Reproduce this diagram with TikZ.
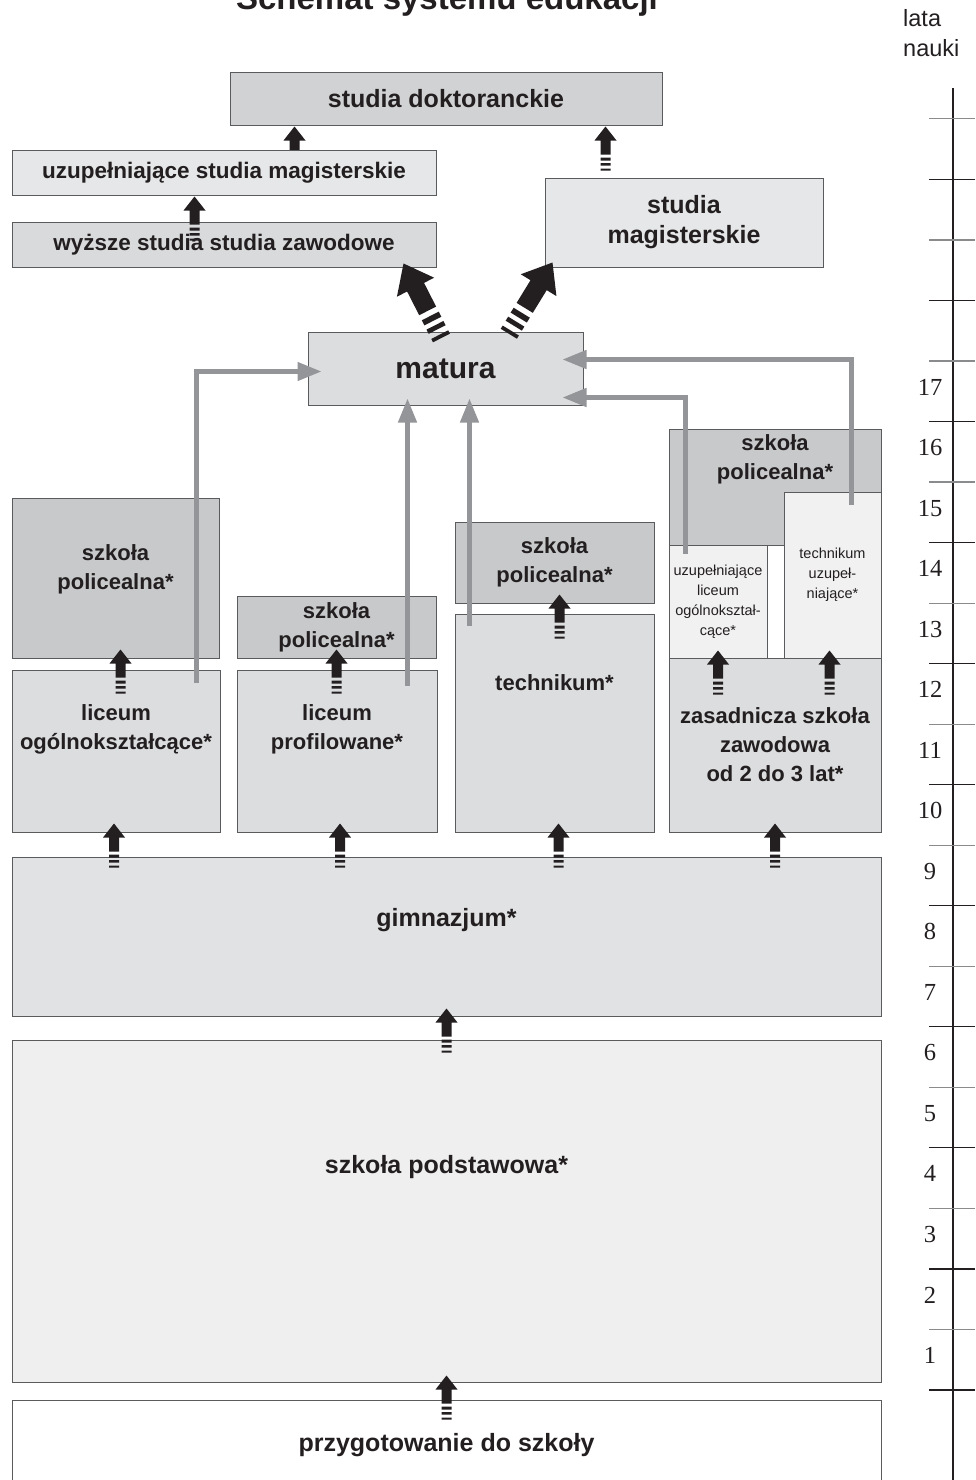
\documentclass[tikz,border=0pt]{standalone}
\usepackage{fontspec}
\setmainfont{Liberation Sans}
\newfontfamily\yearserif{Liberation Serif}
\usetikzlibrary{calc,arrows.meta}

\definecolor{ink}{HTML}{231F20}
\definecolor{frame}{HTML}{5A5B5D}
\definecolor{dokfill}{HTML}{D1D2D4}
\definecolor{usmfill}{HTML}{E6E7E8}
\definecolor{wszfill}{HTML}{D9DADC}
\definecolor{matfill}{HTML}{DCDDDE}
\definecolor{polfill}{HTML}{C8C9CB}
\definecolor{schfill}{HTML}{DCDDDF}
\definecolor{uzfill}{HTML}{F1F1F2}
\definecolor{gimfill}{HTML}{E1E2E3}
\definecolor{spfill}{HTML}{EFEFF0}
\definecolor{conncol}{HTML}{939598}
\definecolor{tickgrey}{HTML}{8A8B8D}

\newcommand\lblfnt{\fontsize{22}{29}\selectfont\bfseries}
\newcommand\topfnt{\fontsize{22.5}{30}\selectfont\bfseries}
\newcommand\headfnt{\fontsize{25}{30}\selectfont\bfseries}
\newcommand\matfnt{\fontsize{30}{34}\selectfont\bfseries}
\newcommand\widefnt{\fontsize{25}{30}\selectfont\bfseries}
\newcommand\tinyfnt{\fontsize{14.5}{20}\selectfont}
\newcommand\titlefnt{\fontsize{33}{38}\selectfont\bfseries}
\newcommand\latafnt{\fontsize{23.5}{30}\selectfont}
\newcommand\yrfnt{\fontsize{24.5}{26}\selectfont\yearserif}

\begin{document}
\begin{tikzpicture}[x=1pt, y=-1pt,
  box/.style={draw=frame, line width=1pt, inner sep=0pt, align=center, text=ink, font=\lblfnt},
  lbl/.style={align=center, text=ink, font=\lblfnt, inner sep=0pt},
  conn/.style={draw=conncol, line width=4.5pt, -{Triangle[length=24pt,width=18pt]}},
  blockarr/.pic={
    \fill[ink] (0,0) -- (-11,14) -- (-5,14) -- (-5,28) -- (5,28) -- (5,14) -- (11,14) -- cycle;
    \fill[ink] (-5,31) rectangle (5,34) (-5,36.5) rectangle (5,39) (-5,42) rectangle (5,44);
  }]
\useasboundingbox (0,0) rectangle (975,1480);

% title and time scale
\node[font=\titlefnt, text=ink, anchor=base] (title) at (447,10) {Schemat systemu edukacji};
\node[font=\latafnt, text=ink, align=left, anchor=north west, inner sep=0pt] (lata) at (903,9) {lata\\nauki};
\draw[ink, line width=1.1pt] (953,88) -- (953,1480);
\foreach \k in {0,...,21}{
  \pgfmathsetmacro\ty{1390-60.53*\k}
  \pgfmathtruncatemacro\odd{mod(\k,2)}
  \ifnum\odd=1 \def\tc{tickgrey}\else\def\tc{ink}\fi
  \draw[\tc, line width=1.2pt] (929,\ty) -- (975,\ty);
}
\foreach \n in {1,...,17}
  \node[font=\yrfnt, text=ink] (yr\n) at (930,1416-60.53*\n) {\n};

% higher education
\node[box, fill=dokfill, minimum width=432pt, minimum height=52pt, font=\headfnt] (dok) at (446,99) {studia doktoranckie};
\pic at ($(dok.south west)+(65,1)$) {blockarr};
\node[box, fill=usmfill, minimum width=424pt, minimum height=45pt, font=\topfnt] (usm) at (224,172.5) {uzupełniające studia magisterskie};
\node[box, fill=wszfill, minimum width=424pt, minimum height=45pt, font=\topfnt] (wsz) at (224,244.5) {wyższe studia studia zawodowe};
\node[box, fill=usmfill, minimum width=278pt, minimum height=89pt, font=\headfnt] (mag) at (684,222.5) {studia\\magisterskie};
\node[box, fill=matfill, minimum width=275pt, minimum height=73pt, font=\matfnt] (mat) at (445.5,368.5) {matura};

% secondary schools
\node[box, fill=polfill, minimum width=207pt, minimum height=160pt] (pol1) at (115.5,578) {};
\node[box, fill=schfill, minimum width=208pt, minimum height=162pt] (lo) at (116,751) {};
\node[box, fill=polfill, minimum width=199pt, minimum height=62pt] (pol2) at (336.5,627) {szkoła\\policealna*};
\node[box, fill=schfill, minimum width=200pt, minimum height=162pt] (lp) at (337,751) {};
\node[box, fill=polfill, minimum width=199pt, minimum height=81pt] (pol3) at (554.5,562.5) {szkoła\\policealna*};
\node[box, fill=schfill, minimum width=199pt, minimum height=218pt] (tech) at (554.5,723) {};
\node[box, fill=polfill, minimum width=212pt, minimum height=116pt] (pol4) at (775,487) {};
\node[box, fill=uzfill, minimum width=98pt, minimum height=113pt, font=\tinyfnt] (ulo) at (718,601.5) {uzupełniające\\liceum\\ogólnokształ-\\cące*};
\node[box, fill=uzfill, minimum width=97pt, minimum height=166pt, font=\tinyfnt] (tu) at (832.5,575) {technikum\\uzupeł-\\niające*};
\node[box, fill=schfill, minimum width=212pt, minimum height=174pt] (zsz) at (775,745) {zasadnicza szkoła\\zawodowa\\od 2 do 3 lat*};

% basic schools
\node[box, fill=gimfill, minimum width=869pt, minimum height=159pt] (gim) at (446.5,936.5) {};
\node[box, fill=spfill, minimum width=869pt, minimum height=342pt] (sp) at (446.5,1211) {};
\node[box, fill=white, minimum width=869pt, minimum height=90pt, font=\widefnt] (prz) at (446.5,1445) {przygotowanie do szkoły};

% labels placed off centre
\node[lbl] (pol1-t) at ($(pol1.north)+(0,72)$) {szkoła\\policealna*};
\node[lbl] (lo-t) at ($(lo.north)+(0,60)$) {liceum\\ogólnokształcące*};
\node[lbl] (lp-t) at ($(lp.north)+(0,60)$) {liceum\\profilowane*};
\node[lbl] (tech-t) at ($(tech.north)+(0,69)$) {technikum*};
\node[lbl] (pol4-t) at ($(pol4.north)+(0,30.5)$) {szkoła\\policealna*};
\node[lbl, font=\widefnt] (gim-t) at ($(gim.north)+(0,64)$) {gimnazjum*};
\node[lbl, font=\widefnt] (sp-t) at ($(sp.north)+(0,128)$) {szkoła podstawowa*};

% routes to matura
\coordinate (lo-out) at ($(lo.north west)+(185,13)$);
\coordinate (lp-out) at ($(lp.north west)+(171,16)$);
\coordinate (tech-out) at ($(tech.north west)+(15,12)$);
\coordinate (ulo-out) at ($(ulo.north west)+(17,9)$);
\coordinate (tu-out) at ($(tu.north west)+(68,13)$);
\draw[conn] (lo-out) |- ($(mat.west)+(14,3)$);
\draw[conn] (lp-out) -- ($(lp-out |- mat.south)+(0,-7)$);
\draw[conn] (tech-out) -- ($(tech-out |- mat.south)+(0,-7)$);
\draw[conn] (ulo-out) |- ($(mat.south east)+(-21,-8)$);
\draw[conn] (tu-out) |- ($(mat.north east)+(-21,28)$);

% block arrows
\pic at ($(dok.south east)+(-57,1)$) {blockarr};
\pic at ($(usm.south west)+(183,1)$) {blockarr};
\pic[rotate=27, scale=1.9] at ($(wsz.south east)+(-33,-4)$) {blockarr};
\pic[rotate=-31.5, scale=1.9] at ($(mag.south west)+(8,-5)$) {blockarr};
\pic at ($(pol1.south)+(5,-9)$) {blockarr};
\pic at ($(pol2.south)+(0,-9)$) {blockarr};
\pic at ($(pol3.south)+(5,-9)$) {blockarr};
\pic at ($(ulo.south)+(0,-8)$) {blockarr};
\pic at ($(tu.south)+(-3,-8)$) {blockarr};
\pic at ($(lo.south)+(-2,-9)$) {blockarr};
\pic at ($(lp.south)+(3,-9)$) {blockarr};
\pic at ($(tech.south)+(4,-9)$) {blockarr};
\pic at ($(zsz.south)+(0,-9)$) {blockarr};
\pic at ($(gim.south)+(0,-8)$) {blockarr};
\pic at ($(sp.south)+(0,-7)$) {blockarr};
\end{tikzpicture}
\end{document}
